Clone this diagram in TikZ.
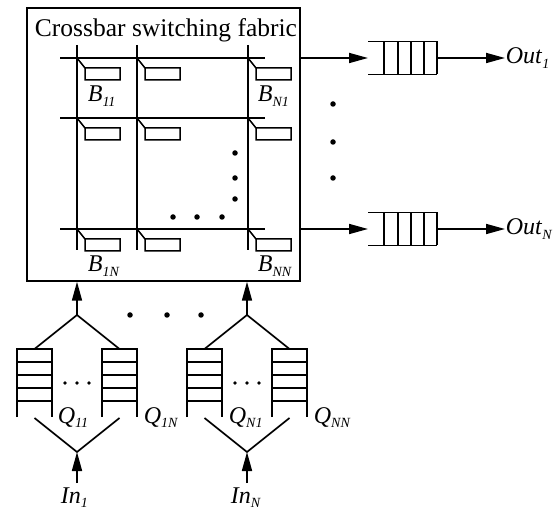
\documentclass[tikz,border=0pt]{standalone}
\usepackage{fontspec}
\setmainfont{Liberation Serif}
\usetikzlibrary{arrows.meta}

% italic label with a lowered italic index
\newcommand\lblsub[2]{\textit{#1}\raisebox{-0.17em}{\fontsize{14}{14}\selectfont\textit{#2}}}

\begin{document}
\begin{tikzpicture}[x=1pt,y=-1pt,line width=1.7pt,
  conn/.style={-{Triangle[length=19pt,width=10pt]}},
  lbl/.style={font=\fontsize{24}{28}\selectfont,inner sep=0pt,anchor=base west},
  bigdot/.style={fill,circle,inner sep=0pt,minimum size=5.5pt},
  smalldot/.style={fill,circle,inner sep=0pt,minimum size=3.6pt},
  thin line/.style={line width=1.5pt}]

\useasboundingbox (0,0) rectangle (554,510);

% switching fabric frame and title
\node[draw,minimum width=273pt,minimum height=273pt,inner sep=0pt,anchor=north west] (fabric) at (26,7) {};
\node[font=\fontsize{25.5}{30}\selectfont,inner sep=0pt] (title) at (166,30) {Crossbar switching fabric};

% crossbar lines
\foreach \y in {58,118,229} \draw (60,\y) -- (265,\y);
\foreach \x in {77,137,248} \draw (\x,45) -- (\x,250);

% crosspoint buffers
\foreach \x in {77,137,248}
  \foreach \y in {58,118,229}
    \draw[thin line] (\x,\y) -- ++(8,10) rectangle ++(35,12);

\node[lbl] (b11) at (87,102) {\lblsub{B}{11}};
\node[lbl] (bn1) at (257,102) {\lblsub{B}{N1}};
\node[lbl] (b1n) at (87,272) {\lblsub{B}{1N}};
\node[lbl] (bnn) at (257,272) {\lblsub{B}{NN}};

% ellipsis inside the fabric
\foreach \y [count=\i] in {153,178,199} \node[bigdot] (vd\i) at (235,\y) {};
\foreach \x [count=\i] in {173,197,222} \node[bigdot] (hd\i) at (\x,217) {};

% output queues
\foreach \y/\k/\t in {58/1/1,229/2/N} {
  \coordinate (oq\k) at (368,\y);
  \coordinate (oqe\k) at (437,\y);
  \draw[conn] (fabric.east |- oq\k) -- (oq\k);
  \draw (368,\y-16.5) -- (437,\y-16.5);
  \draw (368,\y+16.5) -- (437,\y+16.5);
  \foreach \v in {384,398,411,424,437} \draw (\v,\y-16.5) -- (\v,\y+16.5);
  \node[lbl] (out\k) at (505,\y+6) {\lblsub{Out}{\t}};
  \draw[conn] (oqe\k) -- (out\k.west |- oqe\k);
}
\foreach \y [count=\i] in {104,142,178} \node[bigdot] (od\i) at (333,\y) {};

% input side: two groups of virtual output queues
\foreach \c/\k/\t in {77/1/1,247/2/N} {
  \coordinate (ap\k) at (\c,315);
  \coordinate (vp\k) at (\c,452);
  \coordinate (src\k) at (\c,483);
  \draw[conn] (ap\k) -- (fabric.south -| ap\k);
  \draw (\c-42.5,349) -- (ap\k) -- (\c+42.5,349);
  \draw (\c-42.5,418) -- (vp\k) -- (\c+42.5,418);
  \draw[conn] (src\k) -- (vp\k);
  \foreach \q in {-42.5,42.5} {
    \draw (\c+\q-17.5,417) -- (\c+\q-17.5,349) -- (\c+\q+17.5,349) -- (\c+\q+17.5,417);
    \foreach \h in {362,375,388,401} \draw (\c+\q-17.5,\h) -- (\c+\q+17.5,\h);
  }
  \foreach \d [count=\i] in {-12,0,12} \node[smalldot] (sd\k\i) at (\c+\d,383) {};
  \node[lbl] (in\k) at (\c-17,503) {\lblsub{In}{\t}};
}
\foreach \x [count=\i] in {130,167,201} \node[bigdot] (md\i) at (\x,315) {};

\node[lbl] (q11) at (57,423) {\lblsub{Q}{11}};
\node[lbl] (q1n) at (143,423) {\lblsub{Q}{1N}};
\node[lbl] (qn1) at (228,423) {\lblsub{Q}{N1}};
\node[lbl] (qnn) at (313,423) {\lblsub{Q}{NN}};

\end{tikzpicture}
\end{document}
